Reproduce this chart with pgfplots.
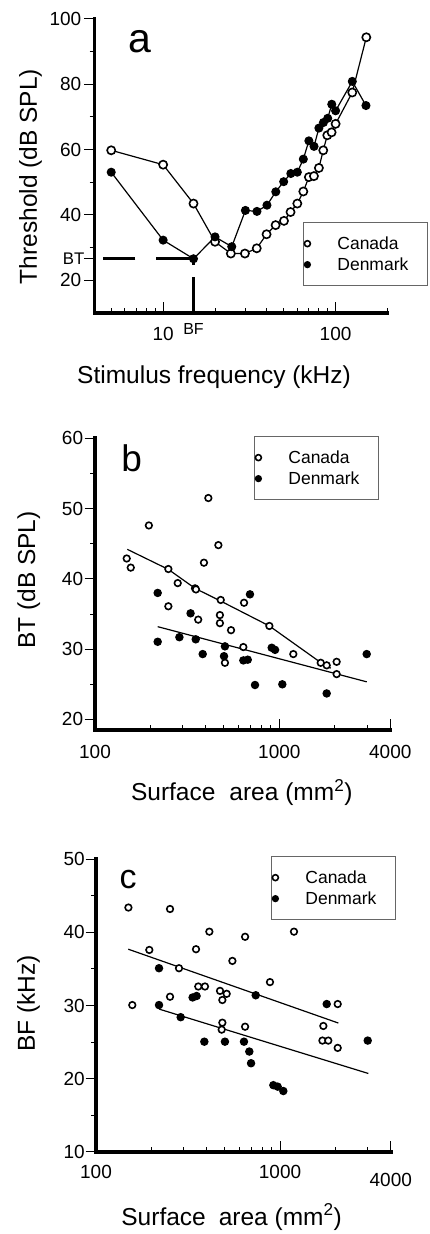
\documentclass[border=0pt]{standalone}
\usepackage{fontspec}
\setmainfont{Liberation Sans}
\usepackage{pgfplots}
\pgfplotsset{compat=1.18}
\newcommand\fs[1]{\fontsize{#1}{#1}\selectfont}
\newcommand\legtxt[1]{\makebox[87pt][l]{\fs{17.5}#1}}
\pgfplotsset{
  panel/.style={
    scale only axis,
    axis x line=bottom, axis y line=left,
    axis line style={-, line width=3.8pt, line cap=rect},
    x axis line style={-}, y axis line style={-},
    tick align=inside,
    major tick length=10.5pt, minor tick length=5pt,
    tick style={black, line width=1pt},
    every major y tick/.style={xshift=-10.5pt},
    every minor y tick/.style={xshift=-5pt},
    tick label style={font=\fs{19}, inner sep=0pt},
    /pgf/number format/assume math mode=true,
    yticklabel={\fs{19}\pgfmathprintnumber{\tick}},
    label style={font=\fs{24.5}},
    clip=false,
    legend cell align=left,
    legend style={draw=black!60, line width=0.8pt, inner xsep=1pt, inner ysep=13pt,
      row sep=4.5pt, column sep=25pt, font=\fs{17.5},
      nodes={inner sep=2pt, text height=12.5pt, text depth=0pt, font=\fs{17.5}},
      anchor=north west},
    legend image code/.code={\draw[mark repeat=2,mark phase=2,##1,only marks,mark size=3pt] plot coordinates {(0pt,0pt) (4pt,0pt) (8pt,0pt)};},
  },
  can/.style={black, line width=1.2pt, mark=*, mark size=3.3pt, mark options={fill=white, draw=black, line width=1.6pt, solid}},
  den/.style={black, line width=1.2pt, mark=*, mark size=3.6pt, mark options={fill=black, draw=black, solid}},
  fit/.style={black, line width=1.2pt, no marks, forget plot},
}
\begin{document}
\begin{tikzpicture}
\useasboundingbox (0pt,0pt) rectangle (430pt,1234pt);
% ---------------- panel a
\begin{axis}[panel, at={(94.5pt,921pt)}, anchor=south west, width=293pt, height=294pt,
  xmode=log, xmin=4, xmax=200, ymin=10, ymax=100,
  xtick={10,100}, xticklabels={\fs{19}10,\fs{19}100},
  minor xtick={5,6,7,8,9,20,30,40,50,60,70,80,90,200},
  ytick={20,40,60,80,100}, minor ytick={30,50,70,90},
  extra y ticks={26.6}, extra y tick labels={\fs{16.8}BT},
  extra y tick style={yticklabel style={xshift=3pt}},
  extra x ticks={15}, extra x tick labels={\fs{16}BF},
  extra x tick style={tick style={draw=none}, xticklabel style={yshift=4pt}},
  xticklabel style={yshift=-14.4pt}, yticklabel style={xshift=-13pt},
  xlabel={Stimulus frequency (kHz)}, ylabel={Threshold (dB SPL)},
  xlabel style={at={(axis description cs:0.408,-0.239)}, anchor=base},
  ylabel style={at={(axis description cs:-0.197,0.4645)}, anchor=base},
  legend style={at={(axis description cs:0.7116,0.3095)}},
]
\draw[line width=3pt, dash pattern=on 38pt off 20pt] (axis cs:15,26.6) -- (axis cs:4.48,26.6);
\draw[line width=3pt, dash pattern=on 36pt off 12pt] (axis cs:15,10) -- (axis cs:15,26.6);
\addplot[can, mark size=4.1pt] coordinates {(5,59.8) (10,55.4) (15,43.5) (20,31.8) (24.7,28.2) (29.8,28.2) (34.9,29.8) (39.8,34.1) (44.9,36.9) (50.2,38.2) (54.8,40.9) (60,43.5) (65,47.2) (70,51.6) (74.9,51.9) (80,54.4) (84.8,59.8) (89.5,64.4) (94.8,65.3) (100,67.9) (124.9,77.5) (150.7,94.4)};
\addplot[den, mark size=3.9pt] coordinates {(5,53.1) (10,32.3) (15,26.6) (20,33.3) (25,30.3) (30,41.4) (35,41.1) (40,43.0) (45,47.1) (50,50.2) (55,52.7) (60,53.1) (65,57.1) (70,62.7) (75,61.0) (80,66.6) (85,68.3) (90,69.6) (95,73.9) (100,71.9) (125,80.9) (150,73.5)};
\legend{\legtxt{Canada},\legtxt{Denmark}}
\end{axis}
% ---------------- panel b
\begin{axis}[panel, at={(95pt,504pt)}, anchor=south west, width=295.3pt, height=291.7pt,
  xmode=log, xmin=100, xmax=4000, ymin=18.5, ymax=60,
  xtick={100,1000,4000}, xticklabels={\fs{19}100,\fs{19}1000,\fs{19}4000},
  minor xtick={200,300,400,500,600,700,800,900,2000,3000},
  ytick={20,30,40,50,60}, minor ytick={25,35,45,55},
  xticklabel style={yshift=-14.7pt}, yticklabel style={xshift=-11.7pt},
  xlabel={Surface\hspace{14pt}area (mm\textsuperscript{2})}, ylabel={BT (dB SPL)},
  xlabel style={at={(axis description cs:0.497,-0.2434)}, anchor=base},
  ylabel style={at={(axis description cs:-0.203,0.514)}, anchor=base},
  legend style={at={(axis description cs:0.5384,1.0079)}},
]
\addplot[fit] coordinates {(149.7,44.2) (250,41.35) (349,38.65) (476,36.9) (883,33.3) (1596,28.5) (1901,27.3)};
\addplot[fit] coordinates {(218.8,33.2) (2980,25.35)};
\addplot[can, only marks] coordinates {(148.6,42.9) (156.3,41.6) (196,47.6) (412,51.5) (390,42.3) (467,44.8) (250,41.4) (281,39.4) (349,38.65) (353,38.5) (250,36.1) (363,34.2) (481,37.0) (476,34.85) (476,33.7) (547,32.7) (507,28.06) (643.6,36.6) (638,30.3) (883,33.3) (1191,29.3) (1677,28.06) (1807,27.7) (2046,28.2) (2046,26.45)};
\addplot[den, only marks] coordinates {(218.8,38.0) (218.8,31.05) (287,31.7) (330,35.1) (352,31.4) (384,29.3) (507,30.4) (501,29.0) (638,28.4) (674,28.5) (693,37.8) (909,30.2) (948,29.9) (738,24.9) (1038,25.0) (1807,23.7) (2979,29.3)};
\legend{\legtxt{Canada},\legtxt{Denmark}}
\end{axis}
% ---------------- panel c
\begin{axis}[panel, at={(96pt,82.3pt)}, anchor=south west, width=294.8pt, height=292.4pt,
  xmode=log, xmin=100, xmax=4000, ymin=10, ymax=50,
  xtick={100,1000,4000}, xticklabels={\fs{19}100,\fs{19}1000,\fs{19}\raisebox{-8.4pt}[\height][0pt]{4000}},
  minor xtick={200,300,400,500,600,700,800,900,2000,3000},
  ytick={10,20,30,40,50}, minor ytick={15,25,35,45},
  xticklabel style={yshift=-13pt}, yticklabel style={xshift=-11pt},
  xlabel={Surface\hspace{13pt}area (mm\textsuperscript{2})}, ylabel={BF (kHz)},
  xlabel style={at={(axis description cs:0.460,-0.2507)}, anchor=base},
  ylabel style={at={(axis description cs:-0.207,0.5075)}, anchor=base},
  legend style={at={(axis description cs:0.5936,1.0113)}},
]
\addplot[fit] coordinates {(149.8,37.7) (2075,27.6)};
\addplot[fit] coordinates {(220.8,29.5) (3020,20.7)};
\addplot[can, only marks] coordinates {(150,43.4) (252.5,43.2) (194.9,37.6) (349.6,37.7) (413,40.1) (646,39.4) (1191,40.1) (551,36.1) (282.5,35.1) (882,33.2) (359.6,32.6) (391,32.6) (252.5,31.2) (472,32.0) (513,31.6) (486,30.75) (157.5,30.06) (2058,30.2) (486,27.65) (482,26.7) (646,27.1) (1720,27.2) (1700,25.2) (1830,25.2) (2058,24.2)};
\addplot[den, only marks] coordinates {(220,35.1) (220,30.06) (288.5,28.4) (335,31.1) (352,31.3) (388,25.05) (502,25.05) (637,25.05) (681,23.7) (696,22.1) (738,31.4) (920,19.1) (971,18.9) (1042,18.3) (1794,30.2) (2997,25.2)};
\legend{\legtxt{Canada},\legtxt{Denmark}}
\end{axis}
\node[anchor=base, font=\fs{41}] at (140pt,1181pt) {a};
\node[anchor=base, font=\fs{37}] at (131.7pt,762.3pt) {b};
\node[anchor=base, font=\fs{34}] at (128pt,345.7pt) {c};
\end{tikzpicture}
\end{document}
